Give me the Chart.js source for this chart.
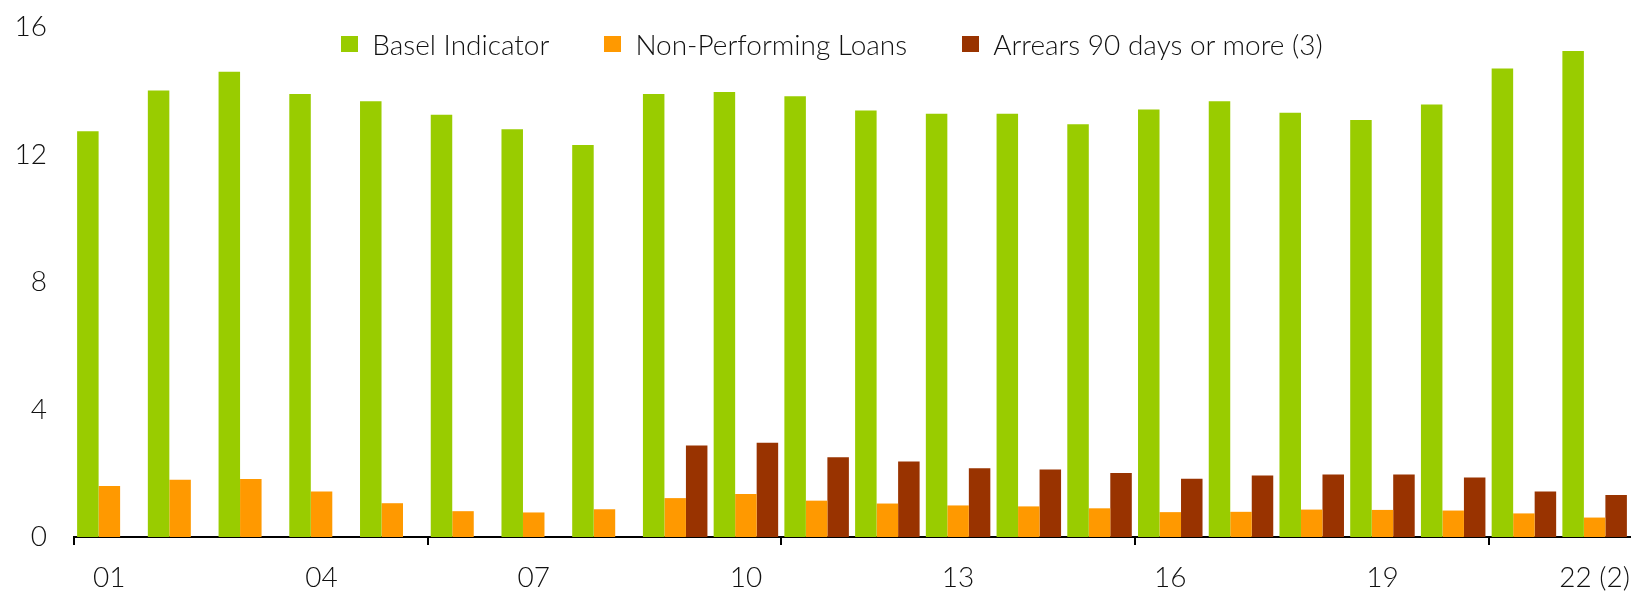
<!DOCTYPE html>
<html>
<head>
<meta charset="utf-8">
<script src="https://cdn.jsdelivr.net/npm/chart.js@4/dist/chart.umd.min.js"></script>
<style>
  html, body { margin: 0; padding: 0; background: #fff; overflow: hidden; }
  #wrap { position: relative; width: 1633px; height: 591px; }
  #legend {
    position: absolute; top: 27px; left: 0; width: 1664px;
    display: flex; justify-content: center; gap: 55px;
    font-family: Lato, "Open Sans", sans-serif; font-weight: 300; font-size: 28px; color: #111;
  }
  #legend .item { display: flex; align-items: center; white-space: nowrap; }
  #legend .box { width: 17px; height: 16px; margin-right: 14px; }
</style>
</head>
<body>
<div id="wrap">
  <canvas id="chart" width="1633" height="591"></canvas>
  <div id="legend"></div>
</div>
<script>
const categories = ['01', '02', '03', '04', '05', '06', '07', '08', '09', '10', '11',
    '12', '13', '14', '15', '16', '17', '18', '19', '20', '21', '22 (2)'];
const baselIndicator = [12.73, 14.01, 14.6, 13.9, 13.67, 13.25, 12.79, 12.3, 13.9, 13.96, 13.83,
    13.38, 13.28, 13.28, 12.95, 13.41, 13.67, 13.31, 13.08, 13.57, 14.70, 15.25];
const nonPerformingLoans = [1.6, 1.8, 1.82, 1.43, 1.06, 0.81, 0.77, 0.87, 1.22, 1.35, 1.14,
    1.05, 0.99, 0.96, 0.9, 0.78, 0.79, 0.86, 0.85, 0.83, 0.74, 0.61];
const arrears90 = [null, null, null, null, null, null, null, null, 2.87, 2.96, 2.5,
    2.37, 2.16, 2.12, 2.01, 1.83, 1.93, 1.96, 1.96, 1.87, 1.43, 1.32];
const yTicks = [0, 4, 8, 12, 16];

const textColor = '#111';
const fontFamily = 'Lato, "Open Sans", sans-serif';

const chartData = {
    labels: categories,
    datasets: [{
        label: 'Basel Indicator',
        data: baselIndicator,
        backgroundColor: '#99CC00'
    }, {
        label: 'Non-Performing Loans',
        data: nonPerformingLoans,
        backgroundColor: '#FF9900'
    }, {
        label: 'Arrears 90 days or more (3)',
        data: arrears90,
        backgroundColor: '#993300'
    }]
};

const ctx = document.getElementById('chart').getContext('2d');
const chart = new Chart(ctx, {
    type: 'bar',
    data: chartData,
    options: {
        responsive: false,
        animation: false,
        layout: { padding: { top: 27, right: 3, left: 0, bottom: 0 } },
        datasets: {
            bar: { categoryPercentage: 0.912, barPercentage: 1.0, borderWidth: 0 }
        },
        plugins: {
            legend: { display: false },
            tooltip: { enabled: false }
        },
        scales: {
            x: {
                afterFit: s => {
                    s.height = 54;
                    s.paddingLeft = 0;
                    s.paddingRight = 0;
                },
                border: { display: true, color: '#000', width: 2 },
                grid: {
                    drawOnChartArea: false,
                    drawTicks: true,
                    tickLength: 8,
                    lineWidth: 2,
                    offset: true,
                    color: c => (c.index % 5 === 0 ? '#000' : 'rgba(0,0,0,0)')
                },
                ticks: {
                    autoSkip: false,
                    maxRotation: 0,
                    padding: 16,
                    color: textColor,
                    font: { family: fontFamily, size: 28, weight: 300 },
                    callback: (v, i) => (i % 3 === 0 ? categories[i] : '')
                }
            },
            y: {
                min: 0,
                max: 16,
                afterBuildTicks: s => { s.ticks = yTicks.map(v => ({ value: v })); },
                afterFit: s => {
                    s.width = 74;
                    s.paddingTop = 0;
                    s.paddingBottom = 0;
                },
                border: { display: false },
                grid: { display: false },
                ticks: {
                    padding: 19,
                    color: textColor,
                    font: { family: fontFamily, size: 28, weight: 300 }
                }
            }
        }
    }
});

// html legend built from the datasets
const legendEl = document.getElementById('legend');
chartData.datasets.forEach(ds => {
    const item = document.createElement('div');
    item.className = 'item';
    const box = document.createElement('span');
    box.className = 'box';
    box.style.background = ds.backgroundColor;
    const txt = document.createElement('span');
    txt.innerText = ds.label;
    item.appendChild(box);
    item.appendChild(txt);
    legendEl.appendChild(item);
});
</script>
</body>
</html>
